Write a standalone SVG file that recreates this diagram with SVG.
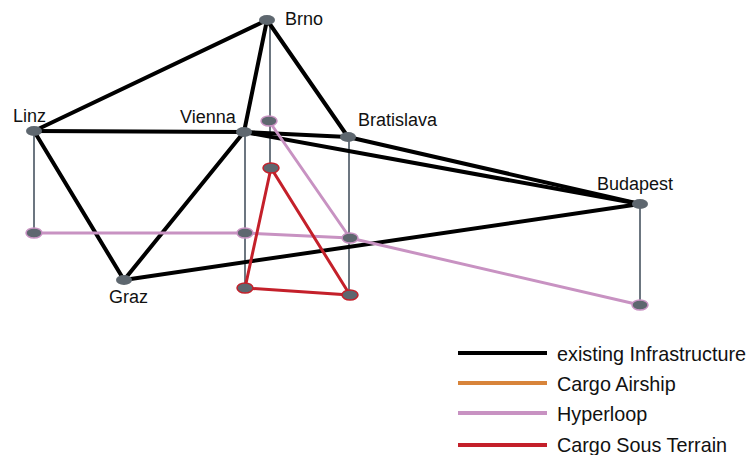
<svg xmlns="http://www.w3.org/2000/svg" width="747" height="455" viewBox="0 0 747 455">
<style>
.lbl{font-family:"Liberation Sans",Arial,sans-serif;font-size:18px;fill:#111}
.leg{font-family:"Liberation Sans",Arial,sans-serif;font-size:19.8px;fill:#111}
.pole{stroke:#6c7680;stroke-width:2;fill:none}
.ex{stroke:#000;stroke-width:4;fill:none;stroke-linecap:round}
.hl{stroke:#c892c2;stroke-width:3;fill:none;stroke-linecap:round}
.cst{stroke:#c4202a;stroke-width:3;fill:none;stroke-linecap:round}
.lg{stroke-width:4;fill:none}
.n{fill:#5e676f}
.nh{fill:#5e676f;stroke:#c892c2;stroke-width:1.5}
.nc{fill:#5e676f;stroke:#c4202a;stroke-width:1.5}
</style>
<rect width="747" height="455" fill="#fff"/>
<g id="connectors">
  <g id="poles">
    <line class="pole" x1="34" y1="131" x2="34" y2="233"/>
    <line class="pole" x1="245" y1="132" x2="245" y2="289"/>
    <line class="pole" x1="270" y1="20" x2="270" y2="168"/>
    <line class="pole" x1="349" y1="137" x2="349" y2="295"/>
    <line class="pole" x1="640" y1="204" x2="640" y2="305"/>
  </g>
  <g id="existing">
    <line class="ex" x1="34" y1="131" x2="267" y2="20"/>
    <line class="ex" x1="34" y1="131" x2="244" y2="132"/>
    <line class="ex" x1="34" y1="131" x2="124" y2="280"/>
    <line class="ex" x1="244" y1="132" x2="124" y2="280"/>
    <line class="ex" x1="244" y1="132" x2="267" y2="20"/>
    <line class="ex" x1="267" y1="20" x2="348" y2="137"/>
    <line class="ex" x1="244" y1="132" x2="348" y2="137"/>
    <line class="ex" x1="348" y1="137" x2="640" y2="204"/>
    <line class="ex" x1="244" y1="132" x2="640" y2="204"/>
    <line class="ex" x1="124" y1="280" x2="640" y2="204"/>
  </g>
  <g id="hyperloop">
    <polyline class="hl" points="34,233 245,233 350,238 640,305"/>
    <line class="hl" x1="269" y1="121" x2="350" y2="238"/>
  </g>
  <g id="cargo-sous-terrain">
    <polygon class="cst" points="271,168 245,288 350,295"/>
  </g>
</g>
<g id="node-brno"><ellipse class="n" cx="267" cy="20" rx="8" ry="5"/><text class="lbl" x="285" y="25">Brno</text></g>
<g id="node-linz"><ellipse class="n" cx="34" cy="131" rx="8" ry="5"/><text class="lbl" x="13" y="122">Linz</text></g>
<g id="node-vienna"><ellipse class="n" cx="244" cy="132" rx="8" ry="5"/><text class="lbl" x="180" y="123">Vienna</text></g>
<g id="node-bratislava"><ellipse class="n" cx="348" cy="137" rx="8" ry="5"/><text class="lbl" x="358" y="126">Bratislava</text></g>
<g id="node-budapest"><ellipse class="n" cx="640" cy="204" rx="8" ry="5"/><text class="lbl" x="597" y="190">Budapest</text></g>
<g id="node-graz"><ellipse class="n" cx="124" cy="280" rx="8" ry="5"/><text class="lbl" x="109" y="303">Graz</text></g>
<g id="node-hl-top"><ellipse class="nh" cx="269" cy="121" rx="8" ry="5"/></g>
<g id="node-hl-linz"><ellipse class="nh" cx="34" cy="233" rx="8" ry="5"/></g>
<g id="node-hl-vienna"><ellipse class="nh" cx="245" cy="233" rx="8" ry="5"/></g>
<g id="node-hl-bratislava"><ellipse class="nh" cx="350" cy="238" rx="8" ry="5"/></g>
<g id="node-hl-budapest"><ellipse class="nh" cx="640" cy="305" rx="8" ry="5"/></g>
<g id="node-cst-top"><ellipse class="nc" cx="271" cy="168" rx="8" ry="5"/></g>
<g id="node-cst-left"><ellipse class="nc" cx="245" cy="288" rx="8" ry="5"/></g>
<g id="node-cst-right"><ellipse class="nc" cx="350" cy="295" rx="8" ry="5"/></g>
<g id="legend">
  <line class="lg" stroke="#000" x1="458" y1="353" x2="547" y2="353"/>
  <line class="lg" stroke="#d8843a" x1="458" y1="383" x2="547" y2="383"/>
  <line class="lg" stroke="#c892c2" x1="458" y1="413" x2="547" y2="413"/>
  <line class="lg" stroke="#c4202a" x1="458" y1="445" x2="547" y2="445"/>
  <text class="leg" x="557" y="361">existing Infrastructure</text>
  <text class="leg" x="557" y="391">Cargo Airship</text>
  <text class="leg" x="557" y="421">Hyperloop</text>
  <text class="leg" x="557" y="452">Cargo Sous Terrain</text>
</g>
</svg>
